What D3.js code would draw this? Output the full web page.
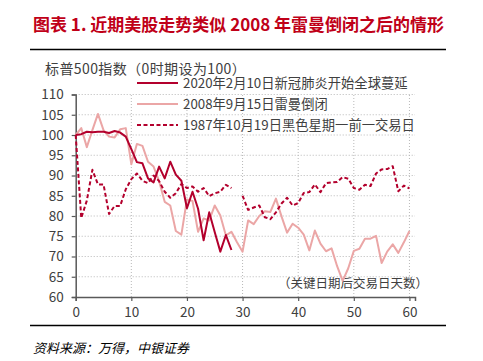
<!DOCTYPE html>
<html>
<head>
<meta charset="utf-8">
<script src="https://cdn.jsdelivr.net/npm/d3@7/dist/d3.min.js"></script>
<style>
  body { margin: 0; background: #fff; }
  svg { font-family: "Noto Sans CJK SC", "Noto Sans", sans-serif; }
</style>
</head>
<body>
<div id="chart"></div>
<script>
// index = trading days after the key date
const covid2020 = [100, 100.2, 100.8, 100.7, 100.8, 100.8, 100.5, 101.0, 100.6, 99.6,
  96.5, 93.3, 93.0, 89.3, 88.3, 92.2, 89.3, 93.4, 90.2, 88.7,
  81.9, 86.0, 81.8, 74.0, 80.9, 76.0, 71.2, 75.3, 71.6];

const lehman2008 = [100, 101.7, 97.0, 101.2, 105.2, 101.2, 99.6, 99.4, 101.4, 101.7,
  92.8, 97.8, 97.3, 93.4, 92.2, 88.6, 83.5, 82.6, 76.3, 75.4,
  84.1, 83.7, 76.1, 79.4, 78.9, 82.6, 80.1, 75.2, 76.1, 73.5,
  71.2, 78.9, 78.0, 80.0, 81.2, 81.0, 84.3, 79.9, 75.9, 78.1,
  77.1, 75.4, 71.5, 76.4, 73.2, 71.3, 72.0, 67.6, 64.0, 67.1,
  71.4, 71.9, 74.4, 74.4, 75.1, 68.4, 71.2, 73.0, 70.9, 73.5, 76.3];

const black1987 = [100, 79.5, 83.8, 91.4, 87.8, 87.8, 80.5, 82.5, 82.5, 86.6,
  89.1, 90.5, 88.7, 88.1, 90.0, 88.6, 86.0, 84.5, 85.6, 87.9,
  86.9, 87.3, 86.0, 86.9, 84.9, 85.6, 86.0, 87.7, 86.9, null,
  85.0, 81.5, 82.1, 82.6, 79.7, 79.2, 80.9, 83.1, 84.5, 82.6,
  83.2, 85.7, 85.9, 87.8, 85.9, 88.1, 88.3, 88.4, 89.6, 89.2,
  86.9, 86.5, 87.7, 87.4, 90.5, 91.5, 91.6, 92.3, 86.1, 87.5, 86.8];

const seriesNames = ["2020年2月10日新冠肺炎开始全球蔓延", "2008年9月15日雷曼倒闭", "1987年10月19日黑色星期一前一交易日"];
const xTicks = [0, 10, 20, 30, 40, 50, 60];
const yTicks = [60, 65, 70, 75, 80, 85, 90, 95, 100, 105, 110];

const width = 483, height = 361;
const darkRed = "#b3002d", pink = "#eba6a6", textGrey = "#404040";

const svg = d3.select("#chart").append("svg")
  .attr("width", width)
  .attr("height", height);

// title and rules
svg.append("text")
  .attr("x", 33).attr("y", 31)
  .attr("font-size", "17px").attr("font-weight", "bold")
  .attr("fill", "#c00018")
  .text("图表 1. 近期美股走势类似 2008 年雷曼倒闭之后的情形");

svg.append("line").attr("x1", 30).attr("x2", 446).attr("y1", 49.5).attr("y2", 49.5)
  .attr("stroke", "#000").attr("stroke-width", 1.5);
svg.append("line").attr("x1", 30).attr("x2", 446).attr("y1", 325.5).attr("y2", 325.5)
  .attr("stroke", "#000").attr("stroke-width", 1.5);

svg.append("text")
  .attr("x", 33).attr("y", 353)
  .attr("font-size", "13px").attr("font-style", "italic")
  .attr("fill", "#000")
  .text("资料来源：万得，中银证券");

const x = d3.scaleLinear().domain([0, 61]).range([75.7, 415]);
const y = d3.scaleLinear().domain([60, 110]).range([297, 94.5]);

// gridlines
svg.append("g")
  .selectAll("line")
  .data(yTicks.slice(1))
  .join("line")
  .attr("x1", x(0)).attr("x2", x(61))
  .attr("y1", d => y(d)).attr("y2", d => y(d))
  .attr("stroke", "#b8b8b8").attr("stroke-dasharray", "1,2");

svg.append("g")
  .selectAll("line")
  .data(xTicks.slice(1))
  .join("line")
  .attr("x1", d => x(d)).attr("x2", d => x(d))
  .attr("y1", y(60)).attr("y2", y(110))
  .attr("stroke", "#b8b8b8").attr("stroke-dasharray", "1,2");

// axes
const yAxis = svg.append("g")
  .attr("transform", `translate(${x(0)},0)`)
  .call(d3.axisLeft(y).tickValues(yTicks).tickSize(4).tickPadding(8));
const xAxis = svg.append("g")
  .attr("transform", `translate(0,${y(60)})`)
  .call(d3.axisBottom(x).tickValues(xTicks).tickSize(4).tickPadding(6));

[yAxis, xAxis].forEach(g => {
  g.select(".domain").attr("stroke", "#595959").attr("stroke-width", 1.5);
  g.selectAll(".tick line").attr("stroke", "#595959").attr("stroke-width", 1.2);
  g.selectAll(".tick text")
    .attr("fill", textGrey)
    .attr("font-size", "13.5px")
    .attr("font-family", "\"Noto Sans CJK SC\", sans-serif");
});

svg.append("text")
  .attr("x", 45).attr("y", 74)
  .attr("font-size", "14px").attr("fill", textGrey)
  .attr("letter-spacing", "0.4px")
  .text("标普500指数（0时期设为100）");

svg.append("text")
  .attr("x", 278).attr("y", 288)
  .attr("font-size", "12.5px").attr("fill", textGrey)
  .text("（关键日期后交易日天数）");

// series lines
const line = d3.line()
  .defined(d => d != null)
  .x((d, i) => x(i))
  .y(d => y(d));

const series = [
  { values: lehman2008, color: pink, dash: null },
  { values: black1987, color: darkRed, dash: "4,2.5" },
  { values: covid2020, color: darkRed, dash: null }
];

svg.append("g")
  .selectAll("path")
  .data(series)
  .join("path")
  .attr("d", d => line(d.values))
  .attr("fill", "none")
  .attr("stroke", d => d.color)
  .attr("stroke-width", 2)
  .attr("stroke-linejoin", "round")
  .attr("stroke-dasharray", d => d.dash);

// legend
const legendStyle = [
  { color: darkRed, dash: null },
  { color: pink, dash: null },
  { color: darkRed, dash: "4,2.5" }
];

const legend = svg.append("g")
  .selectAll("g")
  .data(seriesNames)
  .join("g")
  .attr("transform", (d, i) => `translate(137,${83 + i * 21})`);

legend.append("line")
  .attr("x1", 0).attr("x2", 41)
  .attr("stroke", (d, i) => legendStyle[i].color)
  .attr("stroke-width", 2)
  .attr("stroke-dasharray", (d, i) => legendStyle[i].dash);

legend.append("text")
  .attr("x", 46).attr("dy", "0.36em")
  .attr("font-size", "13.3px").attr("fill", textGrey)
  .text(d => d);
</script>
</body>
</html>
